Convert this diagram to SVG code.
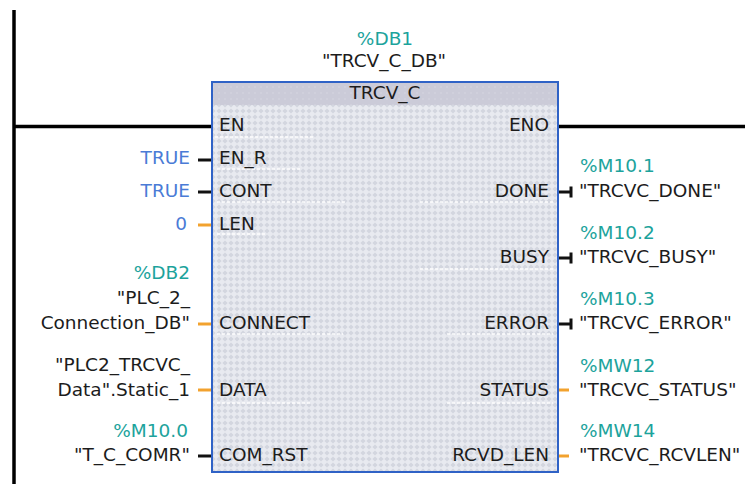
<svg xmlns="http://www.w3.org/2000/svg" width="745" height="484" viewBox="0 0 745 484">
<defs>
<pattern id="chk" width="6" height="6" patternUnits="userSpaceOnUse">
<rect width="6" height="6" fill="#e8eaf0"/>
<path d="M3 0.4 L5.6 3 L3 5.6 L0.4 3 Z" fill="#d3d6df"/>
</pattern>
<pattern id="hdr" width="6" height="6" patternUnits="userSpaceOnUse">
<rect width="6" height="6" fill="#cbcbd8"/>
<circle cx="3" cy="3" r="0.8" fill="#d8d8e3"/>
</pattern>
<style>
text{font-family:"DejaVu Sans","Liberation Sans",sans-serif;font-size:18.5px;fill:#1c1c1c}
.t{fill:#1ca39c}
.b{fill:#4a7bd6}
.e{text-anchor:end}
.m{text-anchor:middle}
.rail{stroke:#000;stroke-width:3.5;fill:none}
.bs{stroke:#111;stroke-width:3;fill:none}
.os{stroke:#f2a22e;stroke-width:3;fill:none}
.sep{stroke:#ffffff;stroke-width:1.5;stroke-dasharray:3 2;opacity:0.9}
</style>
</defs>
<rect width="745" height="484" fill="#ffffff"/>

<g id="block">
<rect x="212" y="82" width="346" height="390" fill="url(#chk)"/>
<rect x="212" y="82" width="346" height="23" fill="url(#hdr)"/>
<g>
<line class="sep" x1="215" y1="137" x2="315" y2="137"/>
<line class="sep" x1="217" y1="169" x2="300" y2="169"/>
<line class="sep" x1="217" y1="202" x2="347" y2="202"/>
<line class="sep" x1="217" y1="234" x2="267" y2="234"/>
<line class="sep" x1="217" y1="334" x2="343" y2="334"/>
<line class="sep" x1="217" y1="403" x2="310" y2="403"/>
<line class="sep" x1="420" y1="202" x2="553" y2="202"/>
<line class="sep" x1="420" y1="269" x2="553" y2="269"/>
<line class="sep" x1="447" y1="334" x2="553" y2="334"/>
<line class="sep" x1="447" y1="403" x2="553" y2="403"/>
</g>
<rect x="212" y="82" width="346" height="390" fill="none" stroke="#2f62c6" stroke-width="2"/>
<text class="m" x="385" y="99">TRCV_C</text>
<text x="219" y="131">EN</text>
<text x="219" y="164">EN_R</text>
<text x="219" y="197">CONT</text>
<text x="219" y="230">LEN</text>
<text x="219" y="329">CONNECT</text>
<text x="219" y="396">DATA</text>
<text x="219" y="461">COM_RST</text>
<text class="e" x="549" y="131">ENO</text>
<text class="e" x="549" y="197">DONE</text>
<text class="e" x="549" y="263">BUSY</text>
<text class="e" x="549" y="329">ERROR</text>
<text class="e" x="549" y="396">STATUS</text>
<text class="e" x="549" y="461">RCVD_LEN</text>
</g>

<g id="instance-db">
<text class="t m" x="385" y="45">%DB1</text>
<text class="m" x="384" y="67">"TRCV_C_DB"</text>
</g>

<g id="in-en-r"><text class="b e" x="190" y="164">TRUE</text></g>
<g id="in-cont"><text class="b e" x="190" y="197">TRUE</text></g>
<g id="in-len"><text class="b e" x="187" y="230">0</text></g>
<g id="in-connect">
<text class="t e" x="190" y="279">%DB2</text>
<text class="e" x="190" y="304">"PLC_2_</text>
<text class="e" x="190" y="329">Connection_DB"</text>
</g>
<g id="in-data">
<text class="e" x="190" y="371">"PLC2_TRCVC_</text>
<text class="e" x="190" y="396">Data".Static_1</text>
</g>
<g id="in-com-rst">
<text class="t e" x="188" y="437">%M10.0</text>
<text class="e" x="190" y="461">"T_C_COMR"</text>
</g>

<g id="out-done">
<text class="t" x="580" y="172">%M10.1</text>
<text x="579" y="197">"TRCVC_DONE"</text>
</g>
<g id="out-busy">
<text class="t" x="580" y="239">%M10.2</text>
<text x="579" y="263">"TRCVC_BUSY"</text>
</g>
<g id="out-error">
<text class="t" x="580" y="305">%M10.3</text>
<text x="579" y="329">"TRCVC_ERROR"</text>
</g>
<g id="out-status">
<text class="t" x="580" y="372">%MW12</text>
<text x="579" y="396">"TRCVC_STATUS"</text>
</g>
<g id="out-rcvd-len">
<text class="t" x="580" y="437">%MW14</text>
<text x="579" y="461">"TRCVC_RCVLEN"</text>
</g>

<g id="connectors">
<line class="rail" x1="14" y1="10" x2="14" y2="484"/>
<line class="rail" x1="14" y1="126.5" x2="211" y2="126.5"/>
<line class="rail" x1="559" y1="126.5" x2="745" y2="126.5"/>
<line class="bs" x1="198" y1="160" x2="211" y2="160"/>
<line class="bs" x1="198" y1="192" x2="211" y2="192"/>
<line class="os" x1="198" y1="225" x2="211" y2="225"/>
<line class="os" x1="198" y1="324" x2="211" y2="324"/>
<line class="os" x1="198" y1="390" x2="211" y2="390"/>
<line class="bs" x1="198" y1="456" x2="211" y2="456"/>
<path class="bs" d="M559 192 H571 M571 186.5 V197.5"/>
<path class="bs" d="M559 258 H571 M571 252.5 V263.5"/>
<path class="bs" d="M559 324 H571 M571 318.5 V329.5"/>
<line class="os" x1="559" y1="390" x2="569" y2="390"/>
<line class="os" x1="559" y1="456" x2="569" y2="456"/>
</g>
</svg>
